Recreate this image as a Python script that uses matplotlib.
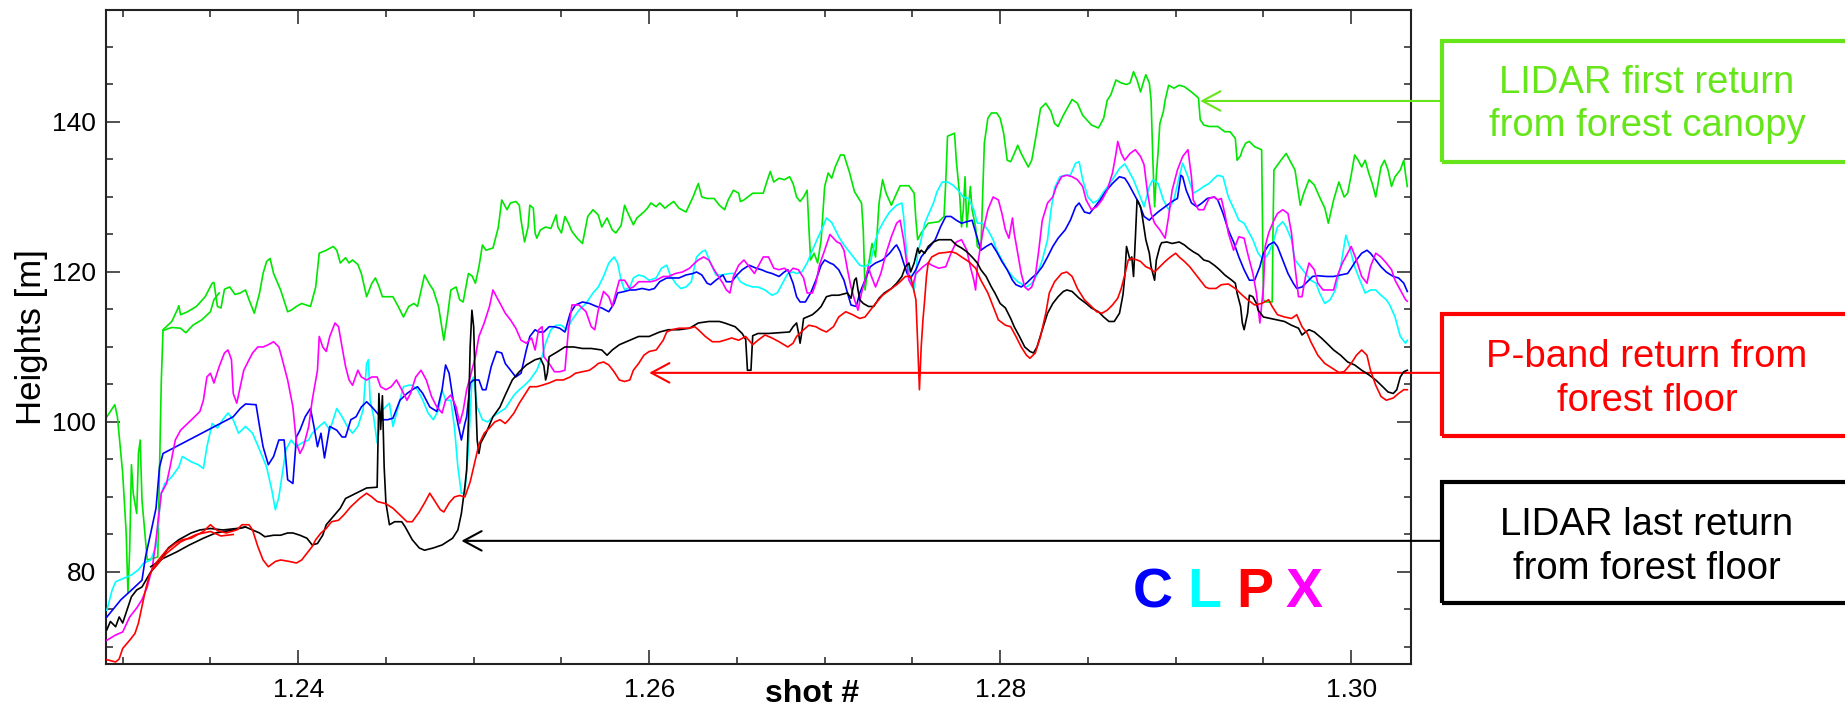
import matplotlib
matplotlib.use("Agg")
import matplotlib.pyplot as plt
from matplotlib.patches import Rectangle
from matplotlib.ticker import MultipleLocator, FixedLocator

plt.rcParams['font.family'] = ['Liberation Sans', 'DejaVu Sans']

# ---------------- data ----------------
green_x = [1.2291,1.22955,1.2297,1.2300,1.2302,1.2303,1.2304,1.2305,1.2306,1.2308,1.2309,1.2310,1.2311,1.2314,1.2320,1.2321,1.2322,1.2323,
 1.2328,1.2331,1.2332,1.2333,1.2337,1.2342,1.2347,1.2351,1.2352,1.2354,1.2356,1.2358,1.2361,1.2364,1.2367,1.2370,1.2372,1.2375,1.2378,
 1.2380,1.2382,1.2384,1.2386,1.2390,1.2394,1.2396,1.2399,1.2402,1.2407,1.2410,1.2412,1.2416,1.2420,1.2422,1.2424,1.2427,1.2429,1.2431,
 1.2434,1.2436,1.2439,1.2442,1.2444,1.2446,1.2448,1.2454,1.2457,1.2460,1.2463,1.2466,1.2468,1.2472,1.2475,1.2477,1.2480,1.2483,1.2485,
 1.2487,1.2490,1.2492,1.2494,1.2497,1.2499,1.2501,1.2503,1.2505,1.2507,1.2511,1.2514,1.2516,1.2519,1.2521,1.2524,1.2526,1.2527,1.2529,
 1.2531,1.2532,1.2534,1.2535,1.2536,1.2538,1.2541,1.2544,1.2547,1.2548,1.2550,1.2552,1.2554,1.2556,1.2559,1.2562,1.2565,1.2568,1.2571,
 1.2573,1.2576,1.2579,1.2581,1.2584,1.2586,1.2588,1.2591,1.2593,1.2597,1.2599,1.2601,1.2604,1.2606,1.2609,1.2611,1.2614,1.2617,1.2621,
 1.2625,1.2628,1.2630,1.2633,1.2637,1.2640,1.2643,1.2645,1.2648,1.2651,1.2652,1.2654,1.2659,1.2662,1.2665,1.2667,1.2669,1.2671,1.2674,
 1.2677,1.2680,1.2682,1.2684,1.2686,1.2688,1.2690,1.2691,1.2692,1.2694,1.2696,1.2698,1.2699,1.2700,1.2702,1.2704,1.2706,1.2709,1.2711,
 1.2714,1.2717,1.2721,1.2722,1.2723,1.2725,1.2727,1.2729,1.2731,1.2733,1.2735,1.2738,1.2741,1.2743,1.2748,1.2751,1.2752,1.2753,1.2755,
 1.2759,1.2765,1.2768,1.2769,1.2770,1.2772,1.2774,1.2775,1.2777,1.2778,1.2779,1.2780,1.2781,1.2783,1.2784,1.2786,1.2787,1.2789,1.2790,
 1.2791,1.2793,1.2795,1.2798,1.2800,1.2802,1.2804,1.2806,1.2809,1.2810,1.2812,1.2816,1.2818,1.2821,1.2823,1.2826,1.2829,1.2831,1.2833,
 1.2836,1.2841,1.2844,1.2847,1.2852,1.2856,1.2859,1.2861,1.2863,1.2866,1.2869,1.2872,1.2874,1.2876,1.2878,1.2880,1.2882,1.2883,1.2885,
 1.2886,1.2887,1.2888,1.2889,1.2890,1.2891,1.2893,1.2894,1.2896,1.2899,1.2902,1.2905,1.2909,1.2913,1.2914,1.2916,1.2919,1.2924,1.2928,
 1.2931,1.2934,1.2935,1.2937,1.2938,1.2940,1.2942,1.2945,1.2949,1.29495,1.2950,1.2951,1.2955,1.29555,1.2956,1.2960,1.2963,1.2965,1.2968,
 1.2971,1.2973,1.2976,1.2979,1.2982,1.2985,1.2987,1.2990,1.2993,1.2996,1.2998,1.3000,1.3002,1.3004,1.3006,1.3008,1.3010,1.3012,1.3014,
 1.3016,1.3017,1.3019,1.3021,1.3023,1.3025,1.3028,1.3030,1.3031,1.3032]
green_y = [100.7,102.3,100.7,93.2,85.2,77.2,83.0,94.3,90.5,87.8,95.8,97.6,89.6,81.6,82.0,94.0,105.4,112.3,
 113.4,114.9,115.5,114.3,114.7,115.4,116.7,118.5,118.6,115.4,115.2,117.7,118.0,117.0,117.2,117.6,116.3,114.5,117.2,
 119.8,121.4,121.8,119.8,117.6,114.7,114.9,115.4,115.8,115.4,118.0,122.5,122.9,123.4,122.9,121.2,121.9,121.2,121.6,
 121.0,119.8,116.7,118.5,119.2,118.1,116.7,116.7,115.4,114.0,115.4,115.8,115.4,119.6,118.3,117.6,115.4,110.9,114.0,
 117.6,118.0,116.3,116.0,119.8,119.5,118.5,120.7,123.6,122.9,123.2,125.9,129.6,128.3,129.2,129.4,128.9,126.9,124.0,
 126.0,128.9,128.5,125.2,124.5,125.6,126.0,125.8,127.6,126.0,125.2,127.4,126.5,125.4,124.5,123.8,127.4,128.3,127.6,
 126.0,127.2,125.6,125.2,126.2,128.9,127.8,126.3,127.2,128.0,128.5,129.2,128.7,129.2,128.5,128.9,129.4,128.5,128.0,
 130.0,131.8,130.0,129.8,129.8,128.9,128.3,129.6,130.9,130.5,129.4,129.6,130.5,130.5,130.5,132.0,133.4,132.0,132.5,
 132.3,132.7,131.8,130.0,129.4,130.0,130.9,126.0,121.6,122.5,121.2,124.3,127.8,131.4,133.2,132.5,134.0,135.6,135.6,
 133.4,130.7,129.2,125.6,117.6,121.0,123.8,122.0,129.2,132.3,130.5,128.9,130.5,131.5,131.5,130.5,126.9,124.3,125.2,
 126.5,126.7,127.4,132.0,138.1,138.3,138.5,134.9,130.0,126.0,128.3,132.7,126.0,131.4,128.3,126.0,123.4,122.9,130.0,
 137.2,140.5,141.2,141.2,140.5,138.5,134.9,134.7,136.3,136.9,135.8,134.0,134.9,138.9,141.8,142.5,141.4,139.8,139.4,
 140.9,143.0,142.5,140.9,139.6,139.2,140.5,142.9,143.6,145.6,145.2,145.0,145.2,146.7,145.6,144.0,145.6,146.3,145.2,
 142.9,135.0,128.7,133.0,136.0,139.8,141.4,142.9,144.9,144.5,144.9,144.7,144.0,143.2,140.3,139.6,139.4,139.4,138.7,
 138.7,137.8,134.9,135.5,136.3,137.2,137.4,136.7,136.3,126.0,116.3,116.0,116.0,126.0,133.6,134.9,135.8,134.9,133.6,
 128.9,130.5,132.3,131.6,130.0,128.5,126.5,129.6,132.0,130.0,130.5,132.9,135.6,134.9,134.0,134.9,133.2,131.8,130.0,
 132.7,134.0,134.9,133.6,131.4,132.7,133.6,134.9,133.0,131.4]
green2_x = [1.2323,1.2328,1.2333,1.2336,1.2340,1.2345,1.2350,1.2352,1.2355]
green2_y = [112.2,112.6,112.5,111.9,112.9,113.6,114.7,116.3,117.2]

black_x = [1.2291,1.2293,1.2296,1.2298,1.2300,1.2305,1.2308,1.2311,1.2316,1.2321,1.2326,1.2332,1.2339,1.2344,1.2350,1.2357,1.2365,
 1.2370,1.2374,1.2378,1.2381,1.2386,1.2390,1.2394,1.2397,1.2401,1.2405,1.2408,1.2411,1.2414,1.2416,1.2420,1.2424,1.2427,1.2433,1.2439,
 1.2445,1.2446,1.2447,1.2448,1.2449,1.2450,1.2452,1.2455,1.2459,1.2461,1.2465,1.2469,1.2472,1.2477,1.2482,1.2488,1.2491,1.2493,1.2495,
 1.2496,1.2497,1.2498,1.2499,1.2500,1.2501,1.2502,1.2503,1.2504,1.2507,1.2511,1.2515,1.2518,1.2522,1.2526,1.2530,1.2535,1.2538,1.2540,
 1.2541,1.2542,1.2543,1.2548,1.2552,1.2557,1.2562,1.2567,1.2573,1.2576,1.2579,1.2583,1.2589,1.2594,1.2600,1.2606,1.2611,1.2617,1.2623,
 1.2628,1.2634,1.2640,1.2643,1.2649,1.2653,1.2655,1.2656,1.2658,1.2659,1.2662,1.2668,1.2674,1.2680,1.2682,1.2684,1.2685,1.2686,1.2687,
 1.2688,1.2690,1.2693,1.2696,1.2698,1.2701,1.2704,1.2708,1.2713,1.2715,1.2717,1.2718,1.2719,1.2720,1.2722,1.2725,1.2728,1.2731,1.2734,
 1.2738,1.2741,1.2744,1.2746,1.2748,1.2749,1.2751,1.2753,1.2754,1.2755,1.2757,1.2759,1.2762,1.2765,1.2769,1.2772,1.2775,1.2778,1.2781,
 1.2784,1.2787,1.2789,1.2792,1.2795,1.2797,1.2800,1.2803,1.2806,1.2808,1.2811,1.2814,1.2817,1.2819,1.2821,1.2824,1.2827,1.2830,1.2833,
 1.2836,1.2838,1.2841,1.2845,1.2849,1.2852,1.2856,1.2859,1.2862,1.2865,1.2868,1.2870,1.2871,1.2872,1.2874,1.2875,1.2876,1.2877,1.2878,
 1.2880,1.2881,1.2883,1.2885,1.2886,1.2888,1.2889,1.2891,1.2892,1.2895,1.2898,1.2902,1.2905,1.2907,1.2910,1.2913,1.2916,1.2919,1.2922,
 1.2925,1.2928,1.2932,1.2934,1.2935,1.2937,1.2938,1.2939,1.2941,1.2942,1.2944,1.2946,1.2947,1.2950,1.2954,1.2958,1.2962,1.2966,1.2970,
 1.2972,1.2974,1.2976,1.2979,1.2983,1.2987,1.2990,1.2994,1.2998,1.3002,1.3006,1.3010,1.3014,1.3018,1.3021,1.3024,1.3026,1.3028,1.3030,
 1.3032]
black_y = [72.3,73.4,72.7,74.0,73.2,76.7,77.6,78.0,80.0,81.4,83.2,84.3,85.2,85.6,85.8,85.6,85.8,
 86.0,85.6,85.2,84.7,84.9,84.9,85.2,85.2,84.9,84.5,83.6,83.8,84.9,86.3,87.4,88.5,89.8,90.5,91.2,
 91.3,103.8,99.0,103.5,94.0,89.2,86.3,86.7,86.7,86.0,84.3,83.2,82.9,83.2,83.6,84.5,85.6,87.8,91.4,
 93.6,100.0,110.0,114.9,112.7,104.3,97.6,95.8,97.2,98.5,100.7,102.0,103.6,105.6,106.7,107.6,108.3,108.5,107.5,
 105.6,106.5,108.7,109.4,110.0,110.0,109.8,109.8,109.6,108.9,109.6,110.3,110.9,111.4,111.4,112.0,112.3,112.3,112.5,
 113.2,113.4,113.4,113.2,112.7,111.8,111.0,106.9,106.9,111.5,111.8,111.8,111.9,112.0,112.7,113.2,112.0,110.5,112.0,
 113.8,114.0,114.3,114.9,115.4,116.7,116.9,116.9,117.2,116.5,118.9,119.2,117.6,116.3,115.8,115.4,115.4,116.5,117.2,
 117.8,118.5,119.4,120.7,121.2,120.0,121.2,123.2,122.5,122.9,122.5,123.4,124.0,124.3,124.3,124.3,123.6,123.2,122.7,
 122.0,121.2,120.3,119.4,118.0,117.2,115.8,115.2,113.8,112.7,111.4,110.0,109.4,109.2,110.0,112.3,114.5,115.8,116.7,
 117.4,117.6,117.4,116.5,115.8,115.2,114.7,114.0,113.4,113.4,114.5,117.0,119.4,123.4,121.6,122.0,119.4,124.3,129.6,
 128.7,127.4,124.3,122.5,120.7,118.9,121.6,123.4,123.9,124.0,123.8,124.0,123.6,123.2,122.7,122.3,121.6,121.4,120.9,
 120.3,119.6,118.9,118.5,117.2,115.4,113.2,112.3,114.5,116.9,116.7,115.8,114.9,114.0,113.8,113.6,113.4,112.9,112.5,
 111.6,112.0,112.3,112.0,111.2,110.3,109.6,108.9,108.0,107.6,106.9,106.3,105.6,104.7,104.0,103.8,104.3,106.0,106.7,
 106.9]
black2_x = [1.2316,1.2323,1.2331,1.2338,1.2346,1.2353,1.2363,1.2370]
black2_y = [80.7,81.8,82.7,83.6,84.5,85.2,85.6,86.0]

red_x = [1.2291,1.2296,1.2298,1.2300,1.2304,1.2307,1.2309,1.2311,1.2313,1.2315,1.2318,1.2321,1.2325,1.2330,1.2334,1.2339,1.2346,
 1.2350,1.2354,1.2359,1.2365,1.2368,1.2372,1.2374,1.2377,1.2380,1.2383,1.2387,1.2390,1.2395,1.2399,1.2402,1.2405,1.2408,1.2410,1.2413,
 1.2416,1.2419,1.2423,1.2426,1.2430,1.2435,1.2439,1.2442,1.2445,1.2450,1.2454,1.2458,1.2462,1.2465,1.2469,1.2472,1.2475,1.2478,1.2481,
 1.2483,1.2486,1.2489,1.2492,1.2495,1.2498,1.2501,1.2503,1.2506,1.2509,1.2512,1.2515,1.2518,1.2520,1.2523,1.2526,1.2529,1.2532,1.2536,
 1.2539,1.2543,1.2547,1.2551,1.2555,1.2558,1.2562,1.2566,1.2569,1.2571,1.2574,1.2577,1.2580,1.2583,1.2586,1.2589,1.2591,1.2594,1.2597,
 1.2600,1.2604,1.2608,1.2610,1.2613,1.2617,1.2623,1.2626,1.2628,1.2632,1.2636,1.2640,1.2643,1.2647,1.2651,1.2655,1.2659,1.2662,1.2666,
 1.2670,1.2674,1.2679,1.2682,1.2684,1.2688,1.2691,1.2695,1.2698,1.2701,1.2705,1.2708,1.2712,1.2716,1.2720,1.2723,1.2726,1.2729,1.2733,
 1.2737,1.2741,1.2743,1.2746,1.2749,1.2752,1.2753,1.2754,1.2755,1.2756,1.2757,1.2758,1.2759,1.2761,1.2765,1.2769,1.2772,1.2775,1.2778,
 1.2782,1.2786,1.2789,1.2793,1.2796,1.2799,1.2803,1.2806,1.2809,1.2812,1.2815,1.2817,1.2820,1.2823,1.2826,1.2828,1.2831,1.2835,1.2838,
 1.2841,1.2844,1.2848,1.2852,1.2855,1.2858,1.2861,1.2864,1.2867,1.2869,1.2871,1.2873,1.2875,1.2878,1.2880,1.2883,1.2885,1.2888,1.2891,
 1.2894,1.2897,1.2900,1.2902,1.2905,1.2908,1.2911,1.2914,1.2917,1.2919,1.2923,1.2926,1.2930,1.2934,1.2938,1.2941,1.2945,1.2949,1.2953,
 1.2955,1.2958,1.2962,1.2966,1.2969,1.2972,1.2975,1.2977,1.2981,1.2985,1.2989,1.2993,1.2996,1.3000,1.3003,1.3006,1.3009,1.3011,1.3014,
 1.3017,1.3020,1.3024,1.3027,1.3030,1.3032]
red_y = [68.3,68.0,68.4,69.8,70.9,71.8,73.2,75.4,77.6,79.4,80.9,81.8,82.9,83.8,84.3,84.5,85.4,
 86.3,85.5,85.2,85.6,86.3,86.3,85.6,83.4,81.6,80.7,81.4,81.6,81.4,81.2,81.6,82.5,83.4,84.3,85.2,
 85.8,86.7,86.9,87.6,88.7,89.8,90.5,90.0,89.4,89.1,88.5,87.6,86.7,86.7,88.0,89.2,90.5,89.4,88.3,
 88.0,89.2,90.0,90.2,90.0,92.0,95.0,97.0,98.5,99.2,100.0,100.3,99.8,100.3,101.2,102.5,103.6,104.7,104.7,
 104.9,105.2,105.6,105.6,106.0,106.5,106.7,106.9,107.4,107.8,108.0,107.6,106.7,105.6,105.4,105.6,106.9,107.8,108.9,
 109.4,109.6,110.9,112.0,112.3,112.5,112.5,112.7,112.3,111.4,110.7,110.7,110.9,111.2,110.9,111.4,110.3,110.9,111.6,
 111.2,110.7,110.0,110.5,111.4,112.3,112.9,112.7,112.3,112.0,112.7,114.0,114.7,114.3,113.8,114.0,114.9,115.8,116.9,
 117.6,118.3,118.7,119.4,119.4,116.3,110.5,104.3,110.0,113.6,116.3,119.4,121.2,122.0,122.5,122.6,122.7,122.5,122.0,
 121.4,120.5,118.9,117.2,115.4,113.6,112.9,112.7,111.4,110.0,108.9,108.5,109.2,111.4,114.5,117.2,118.7,119.8,120.0,
 119.4,117.8,116.3,115.4,114.7,114.5,114.9,115.6,116.5,117.8,119.6,121.6,121.8,121.6,121.4,120.7,120.5,120.0,120.7,
 121.4,122.0,122.5,122.0,121.4,120.7,119.8,118.9,118.0,117.8,117.8,118.3,118.4,117.8,116.9,116.3,115.6,115.8,116.3,
 115.4,114.3,114.0,113.8,114.3,112.7,111.8,110.7,108.9,107.8,107.2,106.6,106.7,107.8,108.9,109.6,108.9,106.9,104.9,
 103.4,102.9,103.2,103.8,104.3,104.3]
red2_x = [1.2318,1.2325,1.2333,1.2342,1.2350,1.2356,1.2363]
red2_y = [80.5,82.5,84.0,85.0,85.4,84.8,85.0]

blue_x = [1.2291,1.2299,1.2306,1.2311,1.2313,1.2316,1.2319,1.2321,1.2323,1.2363,1.2367,1.2370,1.2376,1.2378,1.2380,1.2383,1.2386,
 1.2389,1.2392,1.2394,1.2397,1.2399,1.2401,1.2404,1.2407,1.2409,1.2411,1.2413,1.2415,1.2418,1.2422,1.2425,1.2427,1.2430,1.2433,1.2436,
 1.2439,1.2442,1.2445,1.2448,1.2451,1.2454,1.2458,1.2462,1.2465,1.2468,1.2471,1.2475,1.2479,1.2482,1.2484,1.2486,1.2488,1.2491,1.2493,
 1.2495,1.2496,1.2498,1.2500,1.2503,1.2505,1.2507,1.2510,1.2513,1.2516,1.2518,1.2521,1.2524,1.2527,1.2530,1.2532,1.2535,1.2537,1.2540,
 1.2543,1.2546,1.2549,1.2552,1.2555,1.2558,1.2562,1.2566,1.2570,1.2573,1.2577,1.2580,1.2582,1.2586,1.2589,1.2592,1.2596,1.2600,1.2603,
 1.2606,1.2610,1.2613,1.2617,1.2621,1.2625,1.2627,1.2630,1.2633,1.2635,1.2638,1.2642,1.2644,1.2647,1.2650,1.2653,1.2657,1.2661,1.2664,
 1.2667,1.2670,1.2674,1.2677,1.2679,1.2682,1.2684,1.2686,1.2689,1.2692,1.2695,1.2698,1.2700,1.2703,1.2705,1.2708,1.2711,1.2713,1.2715,
 1.2718,1.2720,1.2723,1.2726,1.2729,1.2733,1.2737,1.2740,1.2741,1.2743,1.2745,1.2747,1.2749,1.2752,1.2755,1.2758,1.2760,1.2763,1.2766,
 1.2769,1.2772,1.2775,1.2778,1.2781,1.2784,1.2787,1.2789,1.2792,1.2795,1.2798,1.2801,1.2804,1.2807,1.2809,1.2812,1.2815,1.2818,1.2821,
 1.2824,1.2827,1.2830,1.2833,1.2837,1.2840,1.2843,1.2845,1.2848,1.2851,1.2854,1.2857,1.2860,1.2864,1.2868,1.2871,1.2873,1.2876,1.2879,
 1.2882,1.2885,1.2887,1.2890,1.2894,1.2898,1.2901,1.2903,1.2904,1.2906,1.2909,1.2912,1.2915,1.2918,1.2922,1.2924,1.2927,1.2930,1.2933,
 1.2936,1.2939,1.2942,1.2945,1.2948,1.2950,1.2953,1.2956,1.2958,1.2961,1.2964,1.2967,1.2969,1.2972,1.2975,1.2978,1.2981,1.2986,1.2990,
 1.2994,1.2998,1.3000,1.3003,1.3006,1.3009,1.3011,1.3014,1.3017,1.3020,1.3024,1.3027,1.3030,1.3032]
blue_y = [74.0,76.3,77.8,78.9,82.0,85.2,88.5,94.0,95.8,100.7,101.8,102.4,102.3,99.4,96.7,94.3,95.4,
 97.6,97.6,92.3,91.8,98.0,98.9,100.7,101.8,99.4,96.7,98.5,95.2,99.4,98.9,98.0,98.0,100.3,100.7,102.0,
 102.7,102.0,101.2,100.3,100.3,100.5,102.9,103.8,104.3,104.7,103.8,102.0,101.4,104.3,107.6,106.5,103.4,99.8,97.6,
 99.8,100.7,105.2,105.6,105.6,104.3,104.3,107.4,109.4,109.2,107.8,106.9,106.0,106.5,109.6,111.4,112.3,112.0,112.0,
 112.7,112.7,112.5,112.0,114.5,115.6,116.0,115.8,115.4,115.2,114.7,115.8,117.2,117.4,117.6,117.6,117.8,117.6,117.8,
 118.7,119.2,119.2,119.2,119.6,119.8,120.0,119.6,118.5,118.3,118.9,119.6,118.7,118.7,119.6,120.3,120.9,120.5,120.3,
 120.0,119.8,119.4,120.0,120.3,118.5,116.7,116.0,116.0,117.2,118.9,120.9,121.6,121.2,121.0,120.3,118.9,117.2,115.6,
 115.4,117.2,118.9,120.7,121.2,121.6,122.5,123.4,123.6,122.7,121.2,119.8,119.2,120.3,122.0,122.9,123.4,124.3,126.0,
 127.4,127.4,126.9,126.5,126.7,126.9,124.5,122.9,123.4,123.8,122.7,121.4,120.3,118.9,118.3,118.0,118.5,119.2,119.8,
 120.7,122.0,123.4,124.5,125.6,126.9,128.7,129.2,128.0,127.8,128.7,129.6,130.7,131.8,132.7,132.5,131.8,130.5,129.2,
 127.4,126.9,127.4,128.0,128.7,129.4,129.8,132.9,132.7,130.9,129.2,128.7,129.2,129.8,130.0,129.6,127.8,125.6,124.0,
 122.0,120.3,118.9,118.9,120.7,122.5,123.6,124.0,123.4,121.6,119.8,118.5,117.8,118.0,118.7,119.4,119.5,119.4,119.4,
 119.6,119.8,120.5,121.6,122.5,122.9,122.5,121.6,120.7,120.0,119.4,119.2,118.5,117.4]

cyan_x = [1.2291,1.2294,1.2296,1.2301,1.2305,1.2309,1.2312,1.2316,1.2319,1.2320,1.2322,1.2324,1.2328,1.2332,1.2334,1.2339,1.2343,
 1.2346,1.2348,1.2351,1.2354,1.2357,1.2360,1.2363,1.2366,1.2370,1.2374,1.2378,1.2382,1.2385,1.2387,1.2389,1.2391,1.2393,1.2396,1.2399,
 1.2402,1.2406,1.2408,1.2412,1.2415,1.2418,1.2422,1.2425,1.2428,1.2431,1.2434,1.2437,1.2439,1.2440,1.2441,1.2443,1.2445,1.2448,1.2452,
 1.2454,1.2457,1.2460,1.2463,1.2465,1.2468,1.2471,1.2474,1.2477,1.2480,1.2482,1.2484,1.2487,1.2489,1.2491,1.2493,1.2495,1.2497,1.2499,
 1.2500,1.2502,1.2505,1.2508,1.2511,1.2514,1.2518,1.2520,1.2523,1.2526,1.2529,1.2532,1.2536,1.2539,1.2541,1.2544,1.2547,1.2550,1.2553,
 1.2556,1.2560,1.2564,1.2568,1.2571,1.2574,1.2577,1.2580,1.2582,1.2584,1.2586,1.2589,1.2591,1.2594,1.2597,1.2600,1.2604,1.2607,1.2610,
 1.2612,1.2615,1.2618,1.2621,1.2624,1.2627,1.2630,1.2632,1.2635,1.2638,1.2641,1.2646,1.2649,1.2652,1.2655,1.2659,1.2662,1.2666,1.2670,
 1.2673,1.2676,1.2679,1.2682,1.2684,1.2687,1.2690,1.2693,1.2696,1.2699,1.2701,1.2704,1.2707,1.2708,1.2711,1.2714,1.2717,1.2720,1.2723,
 1.2726,1.2729,1.2731,1.2734,1.2737,1.2741,1.2744,1.2745,1.2747,1.2749,1.2751,1.2753,1.2755,1.2757,1.2759,1.2762,1.2764,1.2767,1.2770,
 1.2773,1.2776,1.2779,1.2782,1.2785,1.2787,1.2790,1.2793,1.2796,1.2798,1.2801,1.2804,1.2807,1.2810,1.2813,1.2815,1.2818,1.2821,1.2824,
 1.2827,1.2829,1.2831,1.2834,1.2837,1.2840,1.2843,1.2845,1.2847,1.2850,1.2853,1.2856,1.2859,1.2862,1.2865,1.2868,1.2871,1.2873,1.2876,
 1.2879,1.2882,1.2885,1.2887,1.2890,1.2893,1.2896,1.2899,1.2902,1.2904,1.2907,1.2910,1.2913,1.2916,1.2919,1.2922,1.2924,1.2927,1.2930,
 1.2933,1.2936,1.2939,1.2941,1.2944,1.2947,1.2950,1.2953,1.2956,1.2958,1.2961,1.2963,1.2966,1.2968,1.2971,1.2974,1.2977,1.2980,1.2982,
 1.2985,1.2988,1.2991,1.2994,1.2997,1.2999,1.3002,1.3005,1.3008,1.3011,1.3014,1.3017,1.3020,1.3022,1.3025,1.3028,1.3031,1.3032]
cyan_y = [74.9,77.6,78.7,79.2,79.6,80.3,81.2,81.6,83.4,86.0,90.5,91.8,92.7,94.0,95.4,94.7,94.3,
 93.8,96.7,99.8,99.2,100.3,101.2,100.3,98.5,99.4,98.5,96.3,94.0,90.9,88.3,90.0,93.2,96.3,97.6,96.7,
 97.2,97.6,98.5,99.4,100.0,98.9,101.8,100.7,99.4,98.5,99.4,101.6,107.8,108.3,102.9,100.7,97.2,101.6,102.5,
 99.4,102.0,104.7,104.9,104.9,104.3,102.9,101.2,100.3,101.6,104.3,102.9,102.9,99.4,94.0,90.5,90.5,96.3,105.6,
 106.0,102.0,100.3,100.0,100.7,101.2,101.8,102.5,103.6,104.3,104.9,105.6,106.9,108.7,110.5,112.3,112.9,112.9,112.3,
 113.6,114.9,115.8,117.2,118.0,119.4,121.2,122.0,121.2,118.9,117.6,118.0,119.2,119.6,119.4,118.9,119.2,120.5,120.9,
 119.6,118.5,117.8,118.0,118.7,122.0,122.7,122.9,121.2,119.6,119.6,119.8,119.8,118.7,118.3,118.0,118.0,117.6,116.9,
 117.2,118.5,119.8,120.0,119.8,120.0,121.2,122.9,124.5,126.0,127.2,126.6,125.2,124.7,123.6,122.7,121.8,120.9,120.7,
 121.2,124.3,125.6,126.9,128.0,128.9,129.2,127.4,121.6,118.9,117.6,122.5,124.3,126.5,127.6,129.2,130.7,132.0,132.0,
 131.6,130.9,130.0,129.8,128.3,126.5,126.5,125.6,124.3,122.9,121.6,120.3,119.4,118.7,118.3,118.0,118.5,119.6,121.6,
 124.3,128.3,131.2,132.7,132.9,132.9,134.5,134.7,132.3,130.0,129.2,129.6,130.7,131.6,132.7,133.8,134.4,133.6,132.3,
 130.5,128.7,131.4,132.3,131.8,129.6,128.3,129.6,132.7,134.5,132.7,130.5,130.9,131.4,131.8,132.5,132.9,132.7,130.0,
 128.5,126.9,126.5,125.6,124.3,122.5,121.6,122.5,124.3,126.0,126.7,126.0,124.3,121.6,120.7,119.8,118.9,118.5,117.2,
 115.8,116.3,117.6,120.7,124.9,123.4,120.7,118.9,117.2,117.6,117.6,116.9,116.3,115.6,114.0,111.4,110.5,110.9]

magenta_x = [1.2291,1.2296,1.2300,1.2304,1.2308,1.2311,1.2314,1.2317,1.2319,1.2322,1.2325,1.2327,1.2330,1.2333,1.2337,1.2341,1.2344,
 1.2346,1.2348,1.2350,1.2352,1.2355,1.2358,1.2360,1.2362,1.2363,1.2365,1.2367,1.2369,1.2372,1.2374,1.2377,1.2380,1.2383,1.2386,1.2389,
 1.2391,1.2394,1.2397,1.2399,1.2401,1.2403,1.2406,1.2408,1.2411,1.2412,1.2414,1.2416,1.2418,1.2421,1.2423,1.2425,1.2427,1.2429,1.2431,
 1.2434,1.2436,1.2439,1.2442,1.2445,1.2447,1.2450,1.2453,1.2456,1.2459,1.2462,1.2464,1.2467,1.2470,1.2473,1.2476,1.2479,1.2482,1.2484,
 1.2487,1.2490,1.2492,1.2494,1.2496,1.2498,1.2501,1.2503,1.2506,1.2509,1.2511,1.2513,1.2516,1.2518,1.2521,1.2524,1.2527,1.2530,1.2533,
 1.2535,1.2537,1.2539,1.2540,1.2543,1.2546,1.2549,1.2552,1.2554,1.2556,1.2560,1.2564,1.2567,1.2569,1.2571,1.2574,1.2577,1.2579,1.2581,
 1.2583,1.2586,1.2589,1.2591,1.2594,1.2598,1.2601,1.2604,1.2608,1.2611,1.2615,1.2619,1.2623,1.2626,1.2628,1.2631,1.2634,1.2637,1.2640,
 1.2642,1.2644,1.2646,1.2648,1.2651,1.2654,1.2657,1.2660,1.2662,1.2665,1.2668,1.2671,1.2674,1.2677,1.2680,1.2682,1.2685,1.2688,1.2690,
 1.2693,1.2695,1.2697,1.2700,1.2703,1.2705,1.2707,1.2709,1.2711,1.2713,1.2715,1.2717,1.2719,1.2721,1.2723,1.2725,1.2726,1.2729,1.2732,
 1.2735,1.2738,1.2741,1.2743,1.2745,1.2747,1.2748,1.2750,1.2752,1.2756,1.2759,1.2761,1.2765,1.2769,1.2772,1.2775,1.2778,1.2781,1.2783,
 1.2785,1.2786,1.2787,1.2790,1.2793,1.2796,1.2799,1.2801,1.2803,1.2805,1.2807,1.2808,1.2810,1.2812,1.2814,1.2816,1.2818,1.2820,1.2822,
 1.2824,1.2827,1.2830,1.2832,1.2835,1.2838,1.2841,1.2844,1.2847,1.2849,1.2852,1.2855,1.2858,1.2861,1.2864,1.2866,1.2867,1.2869,1.2871,
 1.2874,1.2877,1.2880,1.2882,1.2884,1.2886,1.2888,1.2891,1.2894,1.2896,1.2898,1.2901,1.2904,1.2907,1.2909,1.2910,1.2913,1.2916,1.2919,
 1.2922,1.2924,1.2926,1.2928,1.2930,1.2933,1.2936,1.2939,1.2941,1.2944,1.2946,1.2948,1.2950,1.2951,1.2953,1.2956,1.2958,1.2961,1.2964,
 1.2966,1.2968,1.2970,1.2972,1.2974,1.2976,1.2979,1.2981,1.2984,1.2987,1.2990,1.2992,1.2995,1.2998,1.3000,1.3003,1.3006,1.3009,1.3011,
 1.3014,1.3017,1.3020,1.3023,1.3025,1.3028,1.3031,1.3032]
magenta_y = [70.9,71.6,72.0,74.0,75.2,76.3,78.0,80.7,84.3,90.5,91.8,94.0,97.6,98.9,99.8,100.7,101.4,
 102.9,106.0,106.5,105.2,107.4,109.2,109.6,108.3,103.8,102.5,104.7,106.9,108.3,109.2,110.0,110.0,110.3,110.7,110.0,
 108.3,105.6,102.0,97.2,95.8,96.7,99.4,102.9,106.9,111.4,110.0,109.4,111.4,113.2,112.7,110.0,107.4,105.6,104.9,
 106.9,106.0,105.6,106.0,106.0,104.7,104.3,104.7,105.6,104.3,102.9,103.8,106.0,106.9,105.6,103.4,102.0,101.2,102.9,
 103.6,102.0,99.8,101.5,104.3,106.0,108.7,111.4,113.2,115.4,117.6,116.7,115.4,114.5,113.6,112.5,110.9,110.5,111.2,
 109.6,112.3,112.7,108.7,107.8,106.7,106.7,106.9,112.3,115.6,115.6,114.7,112.7,112.3,114.9,117.4,116.7,115.4,117.2,
 118.9,118.9,117.8,118.0,118.7,118.7,118.7,118.9,119.4,119.4,119.8,120.0,120.5,121.2,121.6,122.0,121.6,120.3,119.2,
 118.5,117.6,117.2,119.4,120.9,121.6,120.7,119.8,120.7,122.0,122.0,120.5,120.3,120.5,120.0,120.5,120.3,119.2,117.2,
 117.2,118.5,120.9,122.9,125.0,124.5,124.0,123.8,122.9,120.3,118.0,116.3,114.9,117.2,118.9,120.7,119.8,118.0,119.8,
 122.5,124.7,126.5,126.9,124.3,120.7,118.9,118.0,119.8,120.7,121.2,120.9,120.5,120.7,122.5,124.0,124.3,122.9,120.7,
 118.9,117.6,120.7,125.2,128.3,130.0,129.6,127.8,125.6,124.5,127.2,125.2,122.5,119.8,118.0,117.6,118.0,119.4,122.9,
 126.9,129.2,130.0,131.4,132.7,132.9,132.7,132.3,131.4,129.6,128.3,128.7,129.6,130.9,133.2,135.8,137.4,135.8,134.9,
 135.8,136.3,135.4,134.3,130.5,127.8,126.5,125.6,124.5,127.4,130.9,133.6,135.4,136.3,132.7,129.6,128.3,128.3,129.8,
 130.0,129.6,129.8,127.8,125.2,122.9,124.7,124.5,122.5,119.8,117.2,113.2,118.0,123.4,125.2,126.9,127.8,128.3,127.8,
 125.2,120.7,116.7,116.7,119.4,121.2,120.3,118.5,117.6,117.6,117.6,119.4,121.2,122.5,123.4,121.6,119.4,118.5,120.7,
 122.5,122.0,121.2,120.3,118.9,117.6,116.3,116.1]

x_major = [1.24, 1.26, 1.28, 1.30]
x_labels = ['1.24', '1.26', '1.28', '1.30']
y_major = [80, 100, 120, 140]
y_labels = ['80', '100', '120', '140']

band_letters = ['C', 'L', 'P', 'X']
band_colors = ['#0000ff', '#00ffff', '#ff0000', '#ff00ff']

callouts = [
    # (line1, line2, colour, arrow tip (shot #, height))
    ('LIDAR first return', 'from forest canopy', '#66e61a', (1.2914, 142.8)),
    ('P-band return from', 'forest floor', '#ff0000', (1.2600, 106.55)),
    ('LIDAR last return', 'from forest floor', '#000000', (1.2493, 84.15)),
]

# ---------------- figure ----------------
W, H = 1845, 707
fig = plt.figure(figsize=(W / 100, H / 100), dpi=100)
fig.patch.set_facecolor('white')
ax = fig.add_axes([106 / W, (H - 664) / H, (1411 - 106) / W, (664 - 10) / H])
ax.set_xlim(1.22905, 1.30341)
ax.set_ylim(67.73, 154.93)

lw = 1.2
ax.plot(green_x, green_y, color='#00e600', lw=lw, zorder=2)
ax.plot(green2_x, green2_y, color='#00e600', lw=lw, zorder=2)
ax.plot(cyan_x, cyan_y, color='#00ffff', lw=lw, zorder=3)
ax.plot(blue_x, blue_y, color='#0000ff', lw=lw, zorder=3)
ax.plot(magenta_x, magenta_y, color='#ff00ff', lw=lw, zorder=3)
ax.plot(black_x, black_y, color='#000000', lw=lw, zorder=4)
ax.plot(black2_x, black2_y, color='#000000', lw=lw, zorder=4)
ax.plot(red_x, red_y, color='#ff0000', lw=lw, zorder=4)
ax.plot(red2_x, red2_y, color='#ff0000', lw=lw, zorder=4)

ax.xaxis.set_major_locator(FixedLocator(x_major))
ax.set_xticklabels(x_labels)
ax.xaxis.set_minor_locator(MultipleLocator(0.005))
ax.yaxis.set_major_locator(FixedLocator(y_major))
ax.set_yticklabels(y_labels)
ax.yaxis.set_minor_locator(MultipleLocator(5))
ax.tick_params(which='both', direction='in', top=True, right=True,
               color='#222222', width=1.1)
ax.tick_params(which='major', length=10, labelsize=19)
ax.tick_params(which='minor', length=5)
ax.tick_params(axis='x', which='major', pad=10)
ax.tick_params(axis='y', which='major', pad=7)
for s in ax.spines.values():
    s.set_linewidth(1.5)
    s.set_color('#222222')

fig.text(32 / W, 1 - 337 / H, 'Heights [m]', rotation=90, ha='center',
         va='center', fontsize=25)
fig.text(812 / W, (H - 702) / H, 'shot #', ha='center', va='baseline',
         fontsize=23, fontweight='bold')

letter_px = [1153, 1204, 1255, 1304]
for ch, col, px in zip(band_letters, band_colors, letter_px):
    fig.text(px / W, (H - 607) / H, ch, color=col, ha='center',
             va='baseline', fontsize=40, fontweight='bold')

# callout boxes & arrows
box_rows = [(41, 162, 93, 136), (314, 436, 367, 411), (482, 603, 535, 579)]
for (l1, l2, col, tip), (top, bot, b1, b2) in zip(callouts, box_rows):
    fig.add_artist(Rectangle((1442 / W, (H - bot) / H), (1870 - 1442) / W,
                             (bot - top) / H, transform=fig.transFigure,
                             fill=False, ec=col, lw=3))
    fig.text(1647 / W, (H - b1) / H, l1, color=col, ha='center',
             va='baseline', fontsize=27.5)
    fig.text(1647 / W, (H - b2) / H, l2, color=col, ha='center',
             va='baseline', fontsize=27.5)
    ax.annotate('', xy=tip, xycoords='data',
                xytext=(1442 / W, tip[1]),
                textcoords=('figure fraction', 'data'),
                annotation_clip=False,
                arrowprops=dict(arrowstyle='->,head_length=1.3,head_width=0.7',
                                color=col, lw=1.5, shrinkA=0, shrinkB=0,
                                mutation_scale=10))

fig.savefig('out.png', dpi=100)
